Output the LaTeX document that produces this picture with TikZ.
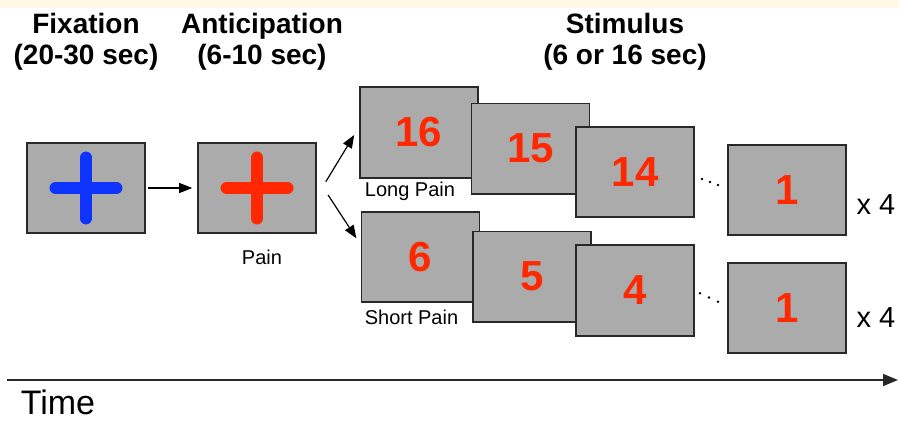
\documentclass[tikz,border=0pt]{standalone}
\usepackage{fontspec}
\setmainfont{Liberation Sans}
\usetikzlibrary{arrows.meta}
\definecolor{screengray}{RGB}{171,171,171}
\definecolor{edgegray}{RGB}{40,40,40}
\definecolor{painred}{RGB}{255,40,0}
\definecolor{fixblue}{RGB}{16,52,255}
\definecolor{topband}{RGB}{254,248,228}
\begin{document}
\begin{tikzpicture}[x=1pt,y=1pt,
		screen/.style={draw=edgegray,line width=1.6pt,fill=screengray,minimum width=118pt,minimum height=90.5pt,inner sep=0pt,text=painred,font=\fontsize{42}{42}\selectfont\bfseries},
		heading/.style={align=center,font=\fontsize{28}{31}\selectfont\bfseries},
		caption/.style={font=\fontsize{20}{20}\selectfont},
		arr/.style={line width=1.2pt,-{Triangle[length=13pt,width=10pt]}},
		crossbar/.style={line width=12pt,line cap=round}]
				\useasboundingbox (0,0) rectangle (899,421);
				\fill[topband] (0,413) rectangle (899,421);
				
				\node[heading] (fixtitle) at (86,379) {Fixation\\(20-30 sec)};
				\node[heading] (anttitle) at (262,379) {Anticipation\\(6-10 sec)};
				\node[heading] (stimtitle) at (625,379) {Stimulus\\(6 or 16 sec)};
				
				\node[screen] (fix) at (86,233) {};
				\node[screen] (ant) at (257,233) {};
				\draw[crossbar,fixblue] (fix.center) +(-30.5,0) -- +(30.5,0);
				\draw[crossbar,fixblue] (fix.center) +(0,-30.5) -- +(0,30.5);
				\draw[crossbar,painred] (ant.center) +(-30.5,0) -- +(30.5,0);
				\draw[crossbar,painred] (ant.center) +(0,-30.5) -- +(0,30.5);
				\node[caption] (painlbl) at (262,164) {Pain};
				
				\node[screen] (long16) at (419,288.5) {16};
				\node[screen] (long15) at (530.5,272.3) {15};
				\node[screen] (long14) at (635,249) {14};
				\node[screen] (long1) at (787,231) {1};
				\node[caption] (longlbl) at (410,229.5) {Long Pain};
				
				\node[screen] (short6) at (420.5,164) {6};
				\node[screen] (short5) at (532,144.3) {5};
				\node[screen] (short4) at (635,130.5) {4};
				\node[screen] (short1) at (787,113) {1};
				\node[caption] (shortlbl) at (411.5,104) {Short Pain};
				
				\fill (702,242) circle (1.4pt);
				\fill (710,239) circle (1.4pt);
				\fill (718,236) circle (1.4pt);
				\fill (700,127.7) circle (1.4pt);
				\fill (709,123.5) circle (1.4pt);
				\fill (718,119.3) circle (1.4pt);
				
				\node[anchor=west,font=\fontsize{29}{29}\selectfont] (longrep) at (853,216) {x 4};
				\node[anchor=west,font=\fontsize{29}{29}\selectfont] (shortrep) at (853,103) {x 4};
				
				\draw[arr,shorten <=2.5pt,shorten >=5pt] (fix) -- (ant);
				\draw[arr] ([shift={(9,6.3)}]ant.east) -- ([shift={(-5,-2.5)}]long16.west);
				\draw[arr] ([shift={(11.3,-7)}]ant.east) -- ([shift={(-4.3,18.7)}]short6.west);
				
				\coordinate (tstart) at (7,41);
				\coordinate (tend) at (898,41);
				\draw[edgegray,line width=1.6pt,-{Triangle[length=15pt,width=12pt]}] (tstart) -- (tend);
				\node[font=\fontsize{34}{34}\selectfont] (timelbl) at (58,18.5) {Time};
			\end{tikzpicture}
\end{document}
